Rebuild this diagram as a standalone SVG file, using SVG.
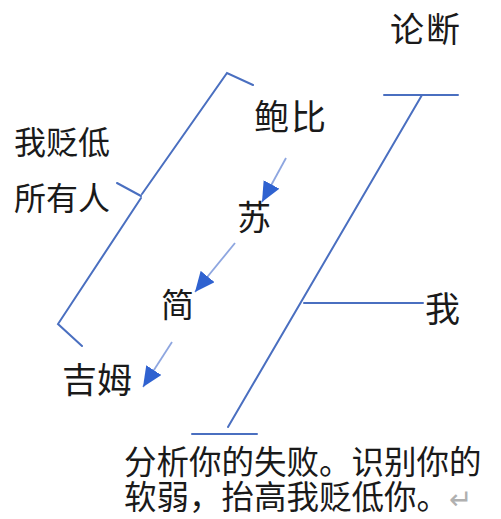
<svg xmlns="http://www.w3.org/2000/svg" width="501" height="519" viewBox="0 0 501 519">
<defs>
<style>
.t{font-family:"Noto Sans CJK SC","Noto Sans",sans-serif;fill:#1a1a1a}
.ln{fill:none;stroke:#4a6fc0;stroke-width:2;stroke-linecap:round;stroke-linejoin:miter}
.ar{fill:none;stroke:#8ea6e0;stroke-width:1.8}
.mk{fill:#2f62d0}
</style>
<marker id="ah" viewBox="0 0 20 18" refX="20" refY="9" markerWidth="20" markerHeight="18" markerUnits="userSpaceOnUse" orient="auto"><path class="mk" d="M0,0 L20,9 L0,18 z"/></marker>
</defs>
<rect width="501" height="519" fill="#ffffff"/>
<g id="connectors">
<path id="brace" class="ln" d="M253,85 L227,73 L142,194 M117,183 L141,196 M141,198 L58,324 L82,346"/>
<path id="axis" class="ln" d="M384,95 L458,95 M422,95 L228,427 M192,434 L257,434"/>
<path id="branch" class="ln" d="M304,303 L423,303"/>
<path class="ar" d="M286,158 L262,202" marker-end="url(#ah)"/>
<path class="ar" d="M235,243 L195,292" marker-end="url(#ah)"/>
<path class="ar" d="M172,342 L143,387" marker-end="url(#ah)"/>
</g>
<g id="n-lunduan"><text class="t" x="390" y="42" font-size="34" letter-spacing="2">论断</text></g>
<g id="n-baobi"><text class="t" x="254" y="130" font-size="35" letter-spacing="2">鲍比</text></g>
<g id="n-wobiandi"><text class="t" x="14" y="154" font-size="32">我贬低</text></g>
<g id="n-suoyouren"><text class="t" x="14" y="210" font-size="32">所有人</text></g>
<g id="n-su"><text class="t" x="237" y="230" font-size="34">苏</text></g>
<g id="n-jian"><text class="t" x="161" y="317" font-size="33">简</text></g>
<g id="n-jimu"><text class="t" x="62" y="393" font-size="35">吉姆</text></g>
<g id="n-wo"><text class="t" x="425" y="322" font-size="35">我</text></g>
<g id="n-bottom">
<text class="t" x="124" y="474" font-size="32.5">分析你的失败。识别你的</text>
<text class="t" x="124" y="509" font-size="32.5">软弱，抬高我贬低你。<tspan fill="#b0b0b0" font-size="28">↵</tspan></text>
</g>
</svg>
